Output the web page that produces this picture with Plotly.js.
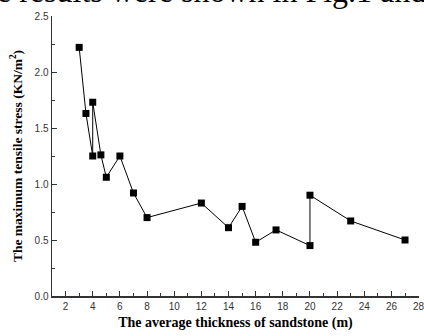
<!DOCTYPE html>
<html><head><meta charset="utf-8">
<script src="https://cdn.plot.ly/plotly-3.0.1.min.js"></script>
<style>html,body{margin:0;padding:0;background:#fff;}#c{width:424px;height:336px;}</style>
</head><body><div id="c"></div>
<script>
const thickness = [3, 3.5, 4, 4, 4.6, 5, 6, 7, 8, 12, 14, 15, 16, 17.5, 20, 20, 23, 27];
const stress = [2.22, 1.63, 1.25, 1.73, 1.26, 1.06, 1.25, 0.92, 0.70, 0.83, 0.61, 0.80, 0.48, 0.59, 0.45, 0.90, 0.67, 0.50];
const xTickVals = [2, 4, 6, 8, 10, 12, 14, 16, 18, 20, 22, 24, 26, 28];
const xTitle = '<b>The average thickness of sandstone (m)</b>';
const yTitle = '<b>The maximum tensile stress (KN/m<sup>2</sup>)</b>';
const topText = 'e results were shown in Fig.1 and';

const trace = {
  x: thickness, y: stress, type: 'scatter', mode: 'lines+markers',
  line: {color: '#000', width: 1},
  marker: {symbol: 'square', size: 7, color: '#000'},
  cliponaxis: false
};
const layout = {
  width: 424, height: 336,
  margin: {l: 52, r: 5, t: 16, b: 40},
  paper_bgcolor: '#fff', plot_bgcolor: '#fff',
  showlegend: false,
  xaxis: {
    range: [1, 28.03], tickmode: 'array', tickvals: xTickVals, ticktext: xTickVals.map(String),
    ticks: 'inside', ticklen: 5, tickcolor: '#333', ticklabeloverflow: 'allow',
    showline: true, linecolor: '#333', linewidth: 1.5, showgrid: false, zeroline: false,
    tickfont: {family: 'Liberation Sans, Arial', size: 10, color: '#333'},
    minor: {dtick: 1, tick0: 1, ticks: 'inside', ticklen: 3, tickcolor: '#333', showgrid: false},
    title: {text: xTitle, font: {family: 'Liberation Serif, Times New Roman', size: 14, color: '#000'}, standoff: 6},
    fixedrange: true
  },
  yaxis: {
    range: [0, 2.5], dtick: 0.5, tickformat: '.1f', ticks: 'inside', ticklen: 5, tickcolor: '#333',
    showline: true, linecolor: '#333', linewidth: 1.5, showgrid: false, zeroline: false,
    tickfont: {family: 'Liberation Sans, Arial', size: 10, color: '#333'},
    minor: {dtick: 0.25, ticks: 'inside', ticklen: 3, tickcolor: '#333', showgrid: false},
    title: {text: yTitle, font: {family: 'Liberation Serif, Times New Roman', size: 13.5, color: '#000'}, standoff: 9},
    fixedrange: true
  },
  annotations: [{
    text: topText, xref: 'paper', yref: 'paper', x: 1, y: 1, xanchor: 'right', yanchor: 'bottom',
    xshift: 9, yshift: 5,
    showarrow: false, font: {family: 'Liberation Serif, Times New Roman', size: 32, color: '#000'}
  }]
};
Plotly.newPlot('c', [trace], layout, {displayModeBar: false, staticPlot: true});
</script></body></html>
